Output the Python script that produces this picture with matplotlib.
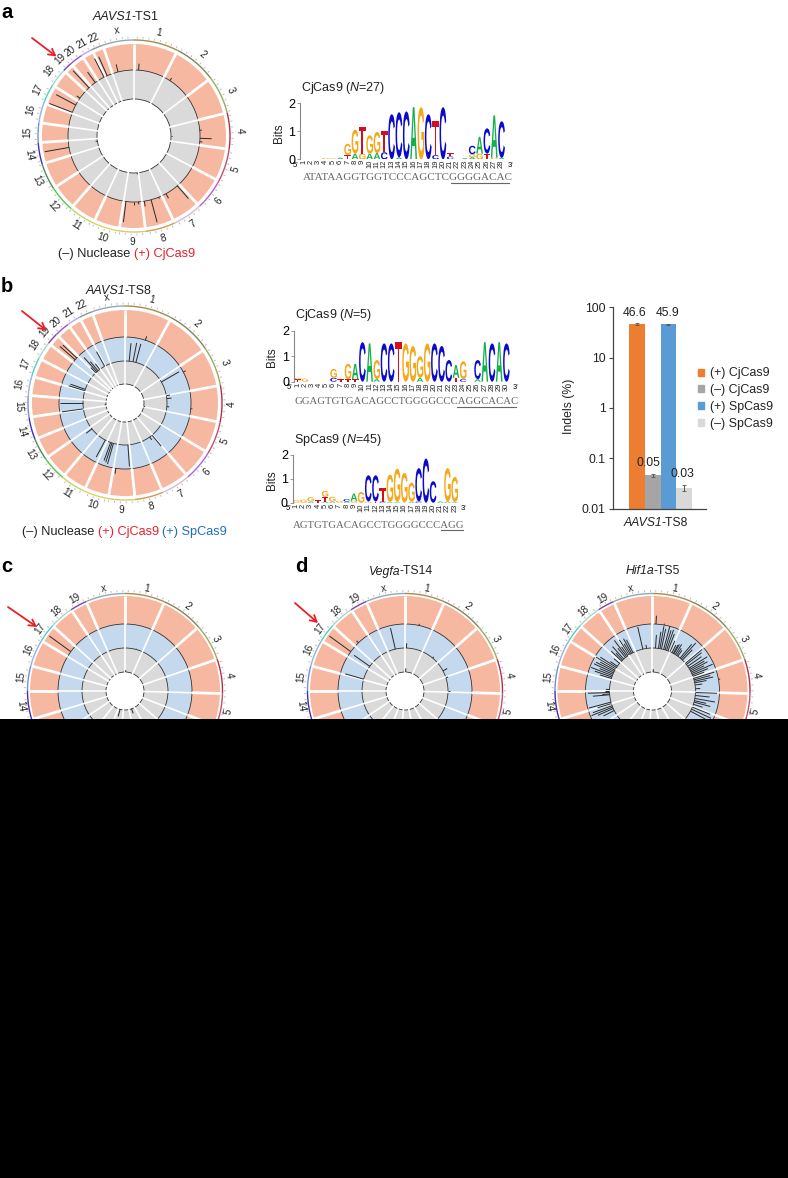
import numpy as np
import matplotlib
matplotlib.use('Agg')
import matplotlib.pyplot as plt
from matplotlib.font_manager import FontProperties
from matplotlib.patches import Wedge, Rectangle, PathPatch, Patch
from matplotlib.textpath import TextPath
from matplotlib.transforms import Affine2D
from matplotlib.collections import LineCollection

plt.rcParams['font.family'] = ['Liberation Sans', 'DejaVu Sans']
plt.rcParams['mathtext.fontset'] = 'custom'
plt.rcParams['mathtext.it'] = 'Liberation Sans:italic'
plt.rcParams['mathtext.rm'] = 'Liberation Sans'

W, H = 788, 1178
DARK = '#222222'

# chromosome boundaries, degrees clockwise from 12 o'clock
human_names = [str(i) for i in range(1, 23)] + ['x']
mouse_names = [str(i) for i in range(1, 20)] + ['x']
bounds_a = [0, 27, 53, 76, 98, 118, 137, 155, 173, 189, 205, 221, 237, 253, 266, 278, 290, 302,
            313, 319, 327, 334, 341, 360]
bounds_b = [0, 28.5, 56, 79.5, 101.5, 121, 139.5, 157, 174, 190, 205, 220, 235, 248, 261.5, 274.5,
            286, 297.5, 308, 315, 324, 332, 340, 360]
bounds_mouse = [0, 24, 49, 71, 91.5, 111, 131, 150, 168, 185, 201, 218, 236, 253, 270, 285, 301,
                312, 326.5, 336.5, 360]
human_colors = ['#a68c52', '#84845c', '#9aaa62', '#b0304c', '#c0506a', '#b060d8', '#d4bccc',
                '#c8a050', '#d8c874', '#d8d860', '#c0d860', '#50c850', '#4f8a58', '#4030b0',
                '#7090d8', '#94b4e0', '#50d0c0', '#a4d8d0', '#8040b0', '#a050c8', '#c4a4e4',
                '#90909c', '#90a8b4']
mouse_colors = human_colors[:18] + ['#8040b0', '#90a8b4']

# spikes: (angle, height as fraction of ring)
a_salmon = [(4, .25), (33, .12), (92, .45), (139, .65), (151, .2), (165, .9), (171, .2), (187, .8),
            (180, .1), (260, .95), (291, .95), (298, .85), (305, .15), (317, .9), (324, .5),
            (333, .8), (336, .8), (346, .3), (85, .08), (95, .1), (176, .1), (158, .06)]
a_gray = [(90, .05), (262, .06), (175, .05)]
b_salmon = [(18, .15), (311, .75), (313, .7), (188, .2), (62, .1), (95, .06)]
b_blue = [(5.7, .75), (11, .8), (15, .8), (60, .85), (80, .15), (84, .2), (95, .1), (140, .6), (144, .15),
          (176, .9), (196, .9), (198, .85), (200, .8), (208, .8), (232, .3), (262, .9), (270, .95),
          (287, .7), (289, .65), (318, .8), (320, .5), (316, .3), (323, .3), (331, .7)]
b_gray = [(100, .06), (265, .06)]
c_salmon = [(306, .95)]
c_blue = [(15, .03)]
c_gray = [(2, .08), (195, .3), (160, .2)]
vegfa_salmon = [(306, .95), (12, .06), (316, .1)]
vegfa_blue = [(347, .9), (305, .8), (286, .8), (2, .2), (90, .1), (62, .2), (40, .07), (72, .1)]
vegfa_gray = [(2, .15)]
hif_salmon = [(3, .3), (10, .05), (80, .06)]
hif_blue = [(4, .55), (8, .7), (10, .95), (12, .85), (15, 1), (17, .85), (19, .9), (21, .75), (24, .5),
            (27, .35), (29, .4), (30, .45), (32, .5), (34, .35), (36, .3), (40, .75), (42, .9), (44, .6),
            (50, .9), (52, .8), (55, .7), (58, .9), (60, .7), (62, .8), (64, .6), (66, .95), (68, .7),
            (70, .5), (73, .9), (75, .7), (77, .8), (79, .5), (82, .3), (87, .2), (92, .9), (96, .6),
            (100, .85), (103, .5), (105, .7), (108, .4), (112, .8), (115, .9), (118, .7),
            (347, .95), (352, .15), (333, .6), (331, .7), (329, .5), (327, .75), (325, .45), (323, .85),
            (321, .5), (318, .7), (316, .4), (314, .6), (310, .3), (305, .35), (303, .8), (301, .95),
            (299, .7), (297, .85), (295, .9), (293, .6), (291, .95), (289, .75), (287, .5), (270, .2),
            (268, .9), (266, .3), (265, .7), (272, .15), (255, .95), (253, .6), (250, .85), (248, .95),
            (246, .7), (243, .5)]
hif_gray = [(2, .12)]

# logos: one entry per position, letters bottom to top with their bits
logo_a = [[], [], [], [('G', .05)], [('G', .04)], [('A', .06)], [('T', .15), ('G', .4)], [('A', .2), ('G', .85)],
          [('G', .2), ('T', .95)], [('A', .2), ('G', .65)], [('A', .22), ('G', .75)], [('C', .25), ('T', .75)],
          [('C', 1.6)], [('A', .07), ('C', 1.6)], [('C', 1.7)], [('A', 1.85)], [('G', 1.85)], [('C', 1.6)],
          [('C', .15), ('T', 1.2)], [('C', 1.85)], [('C', .1), ('T', .12)], [], [('A', .04)],
          [('A', .08), ('G', .1), ('C', .3)], [('G', .2), ('A', .6)], [('T', .2), ('C', .9)],
          [('G', .06), ('A', 1.5)], [('A', .05), ('C', 1.3)]]
logo_b1 = [[('T', .1), ('G', .05)], [('G', .12)], [], [], [], [('C', .15), ('G', .35)], [('T', .1)],
           [('T', .1), ('G', .6)], [('T', .1), ('A', .6)], [('C', 1.55)], [('A', 1.5)], [('A', .1), ('G', .75)],
           [('C', 1.5)], [('C', 1.5)], [('T', 1.55)], [('G', 1.5)], [('G', 1.4)], [('A', .15), ('G', .85)],
           [('G', 1.5)], [('C', 1.5)], [('C', 1.4)], [('C', .85)], [('T', .15), ('A', .5)], [('C', .1), ('G', .7)],
           [], [('A', .1), ('C', .75)], [('A', 1.55)], [('C', 1.5)], [('A', 1.55)], [('C', 1.5)]]
logo_b2 = [[('G', .1)], [('G', .13)], [('A', .05), ('G', .18)], [('T', .1)], [('A', .05), ('T', .2), ('G', .25)],
           [('A', .05), ('G', .2)], [('G', .08)], [('A', .05), ('C', .1)], [('G', .08), ('A', .3)], [('G', .45)],
           [('G', .05), ('C', 1.1)], [('T', .05), ('C', 1.1)], [('C', .05), ('T', .55)], [('A', .03), ('G', 1.15)],
           [('A', .03), ('G', 1.4)], [('G', 1.25)], [('A', .04), ('G', .8)], [('C', .05), ('C', 1.4)], [('C', 1.85)],
           [('C', .9)], [('A', .05)], [('A', .05), ('G', 1.4)], [('A', .03), ('G', 1.05)]]
seq_a = 'ATATAAGGTGGTCCCAGCTCGGGGACAC'
seq_b1 = 'GGAGTGTGACAGCCTGGGGCCCAGGCACAC'
seq_b2 = 'AGTGTGACAGCCTGGGGCCCAGG'
logo_colors = {'A': '#12b04a', 'C': '#0a0ac8', 'G': '#f5a81c', 'T': '#d0101c'}

# indels bar chart
bar_labels = ['(+) CjCas9', '(\u2013) CjCas9', '(+) SpCas9', '(\u2013) SpCas9']
bar_values = [46.6, 0.046, 45.9, 0.026]
bar_errors = [1.6, 0.003, 1.0, 0.004]
bar_texts = ['46.6', '0.05', '45.9', '0.03']
bar_colors = ['#ed7d31', '#a5a5a5', '#5b9bd5', '#d9d9d9']

fig = plt.figure(figsize=(W / 100, H / 100), dpi=100)
fig.patch.set_facecolor('white')
page = fig.add_axes([0, 0, 1, 1])
page.set_xlim(0, W)
page.set_ylim(H, 0)
page.axis('off')


def polar(cx, cy, ang, r):
    a = np.radians(ang)
    return cx + r * np.sin(a), cy - r * np.cos(a)


def circos(cx, cy, bounds, names, colors, radii, fills, spikes, r_arc, r_lab):
    for i in range(len(fills)):
        page.add_patch(Wedge((cx, cy), radii[i + 1], 0, 360, width=radii[i + 1] - radii[i],
                             fc=fills[i], ec='none', zorder=1))
    for r in radii[:-1]:
        page.add_patch(Wedge((cx, cy), r + 0.4, 0, 360, width=0.8, fc='#2a2a2a', ec='none', zorder=2))
    # white separators, thin in the inner rings and wider in the outer one
    for b in bounds[:-1]:
        x0, y0 = polar(cx, cy, b, radii[0] - 1)
        x1, y1 = polar(cx, cy, b, radii[-2])
        page.plot([x0, x1], [y0, y1], color='white', lw=1.2, zorder=3, solid_capstyle='butt')
        x0, y0 = polar(cx, cy, b, radii[-2])
        x1, y1 = polar(cx, cy, b, radii[-1] + 0.5)
        page.plot([x0, x1], [y0, y1], color='white', lw=2.0, zorder=3, solid_capstyle='butt')
    for i, ring in enumerate(spikes):
        h = radii[i + 1] - radii[i]
        for ang, frac in ring:
            x0, y0 = polar(cx, cy, ang, radii[i])
            x1, y1 = polar(cx, cy, ang, radii[i] + frac * h)
            page.plot([x0, x1], [y0, y1], color='#2a2a2a', lw=0.7, zorder=4, solid_capstyle='butt')
    # chromosome arcs, ticks and names
    for i in range(len(names)):
        a0, a1 = bounds[i] + 0.4, bounds[i + 1] - 0.4
        angs = np.linspace(a0, a1, 30)
        xs, ys = polar(cx, cy, angs, r_arc)
        page.plot(xs, ys, color=colors[i], lw=1.0, zorder=4)
        segs = []
        for t in np.arange(a0 + 1.5, a1, 3.4):
            segs.append([polar(cx, cy, t, r_arc + 1.5), polar(cx, cy, t, r_arc + 3.5)])
        page.add_collection(LineCollection(segs, colors='#b4b4b4', linewidths=0.6, zorder=3))
        mid = (bounds[i] + bounds[i + 1]) / 2
        x, y = polar(cx, cy, mid, r_lab)
        rot = -mid if (mid < 90 or mid > 270) else 180 - mid
        page.text(x, y, names[i], fontsize=7.2, ha='center', va='center', rotation=rot,
                  rotation_mode='anchor', color=DARK, zorder=5)


def chain_text(x, y, parts, size, gap=3.5):
    r = fig.canvas.get_renderer()
    for s, c, style in parts:
        t = page.text(x, y, s, color=c, fontsize=size, style=style, ha='left', va='center', zorder=5)
        x = t.get_window_extent(r).x1 + gap


def gene_title(x, y, gene, rest, size=9):
    chain_text(x, y, [(gene, DARK, 'italic'), (rest, DARK, 'normal')], size, gap=-0.8)


def red_arrow(x0, y0, x1, y1):
    page.annotate('', xy=(x1, y1), xytext=(x0, y0), zorder=6,
                  arrowprops=dict(arrowstyle='->,head_length=0.45,head_width=0.25', color='#e8202a', lw=1.3,
                                  shrinkA=0, shrinkB=0))


def px_axes(left, top, right, bottom):
    return fig.add_axes([left / W, 1 - bottom / H, (right - left) / W, (bottom - top) / H])


def logo(left, top, bottom, step, stacks, seq, title, under, under_y, seq_x, seq_y, seq_size):
    n = len(stacks)
    ax = px_axes(left, top, left + n * step, bottom)
    ax.patch.set_alpha(0)
    ax.set_xlim(0.5, n + 0.5)
    ax.set_ylim(0, 2)
    fp = FontProperties(family='Liberation Sans', weight='bold')
    for i, st in enumerate(stacks):
        base = 0
        for letter, h in st:
            tp = TextPath((0, 0), letter, size=1, prop=fp)
            bb = tp.get_extents()
            tr = (Affine2D().translate(-bb.x0, -bb.y0).scale(0.92 / bb.width, h / bb.height)
                  .translate(i + 1 - 0.46, base) + ax.transData)
            ax.add_patch(PathPatch(tp, fc=logo_colors[letter], ec='none', transform=tr))
            base += h
    for s in ['top', 'right', 'bottom']:
        ax.spines[s].set_visible(False)
    ax.spines['left'].set_color('#888888')
    ax.spines['left'].set_linewidth(0.8)
    ax.set_yticks([0, 1, 2])
    ax.set_xticks(range(1, n + 1))
    ax.set_xticklabels(range(1, n + 1), rotation=90, fontsize=5.4, color=DARK)
    ax.tick_params(axis='x', length=0, pad=0.5)
    ax.tick_params(axis='y', length=2, width=0.6, color='#888888', labelsize=9, pad=1.5)
    page.text(left - 4, bottom + 6, "5'", fontsize=5.5, ha='center', va='center')
    page.text(left + n * step + 5, bottom + 6, "3'", fontsize=5.5, ha='center', va='center')
    page.text(left + 1, top - 15.5, title, fontsize=9, ha='left', va='center', color=DARK)
    page.text(seq_x, seq_y, seq, family='Liberation Serif', fontsize=seq_size, ha='left', va='center',
              color='#666666')
    page.plot(under, [under_y, under_y], color='#666666', lw=0.8)


# panel letters
for s, x, y in [('a', 1, 12), ('b', 1, 286), ('c', 1, 567), ('d', 295, 566)]:
    page.text(x, y, s, fontsize=14.5, fontweight='bold', ha='left', va='center', color='black')

SAL, BLU, GRY = '#f6b8a0', '#c4d9ee', '#dadada'

# panel a
circos(134, 136, bounds_a, human_names, human_colors, [37, 66, 92], [GRY, SAL], [a_gray, a_salmon], 96, 106.5)
gene_title(93, 17.5, 'AAVS1', '-TS1')
chain_text(58, 254.5, [('(\u2013) Nuclease', DARK, 'normal'), ('(+) CjCas9', '#e8202a', 'normal')], 9.2)
red_arrow(32, 38, 56.5, 56.5)

# panel b
circos(125, 403, bounds_b, human_names, human_colors, [19, 42, 66, 93], [GRY, BLU, SAL],
       [b_gray, b_blue, b_salmon], 97, 107)
gene_title(86, 291.5, 'AAVS1', '-TS8')
chain_text(22, 531.5, [('(\u2013) Nuclease', DARK, 'normal'), ('(+) CjCas9', '#e8202a', 'normal'),
                       ('(+) SpCas9', '#1f6cc0', 'normal')], 9.2)
red_arrow(22, 311, 46.5, 330.5)

# panels c and d
circos(125, 691, bounds_mouse, mouse_names, mouse_colors, [19, 43, 67, 95], [GRY, BLU, SAL],
       [c_gray, c_blue, c_salmon], 97.5, 105)
red_arrow(8, 607, 37, 627)
circos(405, 691, bounds_mouse, mouse_names, mouse_colors, [19, 43, 67, 95], [GRY, BLU, SAL],
       [vegfa_gray, vegfa_blue, vegfa_salmon], 97.5, 105)
gene_title(369, 571.5, 'Vegfa', '-TS14', 8.8)
red_arrow(295, 603, 318, 623)
circos(652.5, 691, bounds_mouse, mouse_names, mouse_colors, [19, 43, 67, 95], [GRY, BLU, SAL],
       [hif_gray, hif_blue, hif_salmon], 97.5, 105)
gene_title(626, 571.5, 'Hif1a', '-TS5', 8.8)

# logos
logo(300, 103, 159.3, 7.33, logo_a, seq_a, r'CjCas9 ($\mathit{N}$=27)', [450.7, 509], 182.7, 302.5, 177.5, 8)
logo(294, 330.7, 381.7, 7.2, logo_b1, seq_b1, r'CjCas9 ($\mathit{N}$=5)', [457.3, 516], 407, 295, 401.5, 7.75)
logo(292.7, 455, 502.7, 7.2, logo_b2, seq_b2, r'SpCas9 ($\mathit{N}$=45)', [440.7, 462.7], 530, 292.7, 525, 7.75)
for x, y in [(279, 133), (272, 357), (272, 480)]:
    page.text(x, y, 'Bits', fontsize=8.5, rotation=90, ha='center', va='center', color=DARK)

# indels bars
ax = px_axes(612.7, 307.3, 705.7, 508.7)
ax.patch.set_alpha(0)
xs = np.arange(4)
ax.bar(xs, bar_values, width=1.0, color=bar_colors, yerr=bar_errors,
       error_kw=dict(ecolor='#555555', elinewidth=0.7, capsize=1.5, capthick=0.6))
ax.set_yscale('log')
ax.set_ylim(0.01, 100)
ax.set_xlim(-1.56, 4.375)
ax.set_xticks([])
ax.set_yticks([0.01, 0.1, 1, 10, 100])
ax.set_yticklabels(['0.01', '0.1', '1', '10', '100'], fontsize=8.8, color=DARK)
ax.minorticks_off()
ax.tick_params(axis='y', length=3, width=0.8, color='#444444', pad=2)
for s in ['top', 'right']:
    ax.spines[s].set_visible(False)
for s in ['left', 'bottom']:
    ax.spines[s].set_color('#444444')
    ax.spines[s].set_linewidth(0.9)
offsets = [8, 9, 8, 9.7]
shifts = [-2, -3, -0.5, -1]
for i in range(4):
    ax.annotate(bar_texts[i], (xs[i], bar_values[i]), xytext=(shifts[i], offsets[i]), textcoords='offset points',
                ha='center', va='center', fontsize=8.8, color=DARK)
page.text(569, 406.7, 'Indels (%)', fontsize=8.8, rotation=90, ha='center', va='center', color=DARK)
gene_title(624, 522.7, 'AAVS1', '-TS8', 8.8)
handles = [Patch(color=c, label=l) for c, l in zip(bar_colors, bar_labels)]
fig.legend(handles=handles, loc='center left', bbox_to_anchor=(698 / W, 1 - 398.5 / H), frameon=False,
           fontsize=8.9, handlelength=0.5, handleheight=0.5, handletextpad=0.45, labelspacing=0.38,
           borderpad=0, borderaxespad=0, labelcolor=DARK)

# the lower part of the page is black
page.add_patch(Rectangle((0, 719), W, H - 719, fc='black', ec='none', zorder=10))

fig.savefig('out.png', dpi=100)
